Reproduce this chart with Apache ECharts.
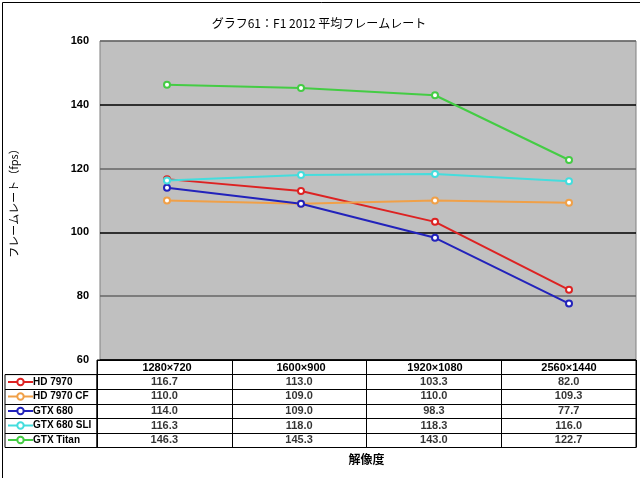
<!DOCTYPE html>
<html><head><meta charset="utf-8">
<script src="https://cdn.jsdelivr.net/npm/echarts@6/dist/echarts.min.js"></script>
<style>html,body{margin:0;padding:0;background:#fff}#c{width:640px;height:478px}</style>
</head><body><div id="c"></div>
<script>
const categories = ['1280×720', '1600×900', '1920×1080', '2560×1440'];
const seriesNames = ['HD 7970', 'HD 7970 CF', 'GTX 680', 'GTX 680 SLI', 'GTX Titan'];
const hd7970 = [116.7, 113.0, 103.3, 82.0];
const hd7970cf = [110.0, 109.0, 110.0, 109.3];
const gtx680 = [114.0, 109.0, 98.3, 77.7];
const gtx680sli = [116.3, 118.0, 118.3, 116.0];
const gtxTitan = [146.3, 145.3, 143.0, 122.7];
const colors = ['#dd2222', '#f0a048', '#2222bb', '#44dddd', '#44cc44'];
const yTicks = {min: 60, max: 160, interval: 20};

const allValues = [hd7970, hd7970cf, gtx680, gtx680sli, gtxTitan];
const labelFont = {fontFamily: '"Liberation Sans", "Noto Sans CJK JP", sans-serif', fontWeight: 'bold', fontSize: 11, color: '#000'};
const legendFont = {fontFamily: '"Liberation Sans", sans-serif', fontWeight: 'bold', fontSize: 10, color: '#000'};
const tableRows = [''].concat(seriesNames);

const lineSeries = seriesNames.map((n, i) => ({
  name: n, type: 'line', xAxisIndex: 0, yAxisIndex: 0,
  data: allValues[i], symbol: 'emptyCircle', symbolSize: 6,
  lineStyle: {color: colors[i], width: 2},
  itemStyle: {color: colors[i], borderColor: colors[i], borderWidth: 1.2},
  z: 3 + i
}));
const tableSeries = seriesNames.map((n, i) => ({
  name: 'tbl_' + n, type: 'scatter', xAxisIndex: 1, yAxisIndex: 1,
  symbolSize: 0, silent: true,
  data: categories.map((c, j) => [c, n, allValues[i][j]]),
  label: Object.assign({show: true, position: 'inside', formatter: p => p.value[2].toFixed(1)}, labelFont)
}));

const chart = echarts.init(document.getElementById('c'));
chart.setOption({
  animation: false,
  backgroundColor: '#fff',
  title: {text: 'グラフ61：F1 2012 平均フレームレート', left: 314, textAlign: 'center', top: 12,
    textStyle: {fontFamily: '"Noto Sans CJK JP", sans-serif', fontWeight: 'normal', fontSize: 12, color: '#000'}},
  legend: {orient: 'vertical', left: 7, top: 375, padding: 0, itemWidth: 25, itemHeight: 8, itemGap: 0.5,
    data: seriesNames, selectedMode: false,
    textStyle: Object.assign({lineHeight: 14, padding: [0, 0, 0, -5]}, legendFont)},
  grid: [
    {left: 97, top: 41, width: 539, height: 319, show: true, backgroundColor: '#c0c0c0', borderColor: '#808080', borderWidth: 1},
    {left: 97, top: 360, width: 539, height: 87.5, show: true, borderColor: '#000', borderWidth: 1},
    {left: 5, top: 374.6, width: 92, height: 72.9, show: true, borderColor: '#000', borderWidth: 1}
  ],
  xAxis: [
    {type: 'category', gridIndex: 0, data: categories, boundaryGap: true,
      axisLine: {show: false}, axisTick: {show: false}, axisLabel: Object.assign({margin: 2, interval: 0}, labelFont)},
    {type: 'category', gridIndex: 1, data: categories, boundaryGap: true, position: 'bottom',
      name: '解像度', nameLocation: 'middle', nameGap: 6,
      nameTextStyle: {fontFamily: '"Noto Sans CJK JP", sans-serif', fontWeight: 'bold', fontSize: 12, color: '#000'},
      axisLine: {show: false}, axisTick: {show: false}, axisLabel: {show: false, interval: 0},
      splitLine: {show: true, interval: 0, lineStyle: {color: '#000', width: 1}}},
    {type: 'value', gridIndex: 2, show: false}
  ],
  yAxis: [
    Object.assign({type: 'value', gridIndex: 0,
      name: 'フレームレート（fps）', nameLocation: 'middle', nameGap: 81, nameRotate: 90,
      nameTextStyle: {fontFamily: '"Noto Sans CJK JP", sans-serif', fontWeight: 'normal', fontSize: 11, color: '#000'},
      axisLine: {show: false}, axisTick: {show: false},
      axisLabel: Object.assign({margin: 11}, labelFont),
      splitLine: {show: true, lineStyle: {color: ['#000', '#666'], width: 1.5}}}, yTicks),
    {type: 'category', gridIndex: 1, data: tableRows, inverse: true,
      axisLine: {show: false}, axisTick: {show: false}, axisLabel: {show: false, interval: 0},
      splitLine: {show: true, interval: 0, lineStyle: {color: '#000', width: 1}}},
    {type: 'category', gridIndex: 2, data: seriesNames, inverse: true,
      axisLine: {show: false}, axisTick: {show: false}, axisLabel: {show: false, interval: 0},
      splitLine: {show: true, interval: 0, lineStyle: {color: '#000', width: 1}}}
  ],
  graphic: [{type: 'rect', left: 0, top: 0, shape: {width: 639, height: 477}, style: {fill: null, stroke: '#000', lineWidth: 1}, silent: true}],
  series: lineSeries.concat(tableSeries)
});
</script></body></html>
